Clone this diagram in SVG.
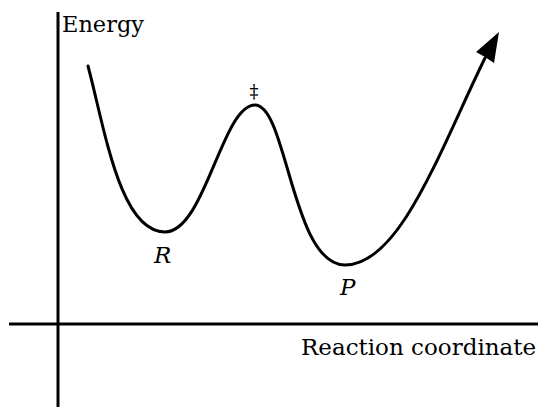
<svg xmlns="http://www.w3.org/2000/svg" width="538" height="407" viewBox="0 0 538 407">
<style>
.ax{stroke:#000;stroke-width:3;fill:none}
.cv{stroke:#000;stroke-width:3;fill:none;stroke-linecap:round}
</style>
<rect width="538" height="407" fill="#fff"/>
<g id="axes">
<line class="ax" x1="58" y1="12" x2="58" y2="407"/>
<line class="ax" x1="9" y1="324" x2="538" y2="324"/>
</g>
<g id="connectors">
<path class="cv" d="M88,66 C105,130 120,232 165,232 C205,232 222,105 255,105 C287,105 292,265 345,265 C400,265 440,150 485,58"/>
<polygon points="499,32 494,63 485,57 476,52" fill="#000"/>
</g>
<g id="labels" font-family="'DejaVu Serif', serif" fill="#000">
<text id="energy" x="62" y="32" font-size="23" textLength="82" lengthAdjust="spacingAndGlyphs">Energy</text>
<text id="rc" x="301" y="355" font-size="23">Reaction coordinate</text>
<text id="R" x="154" y="263" font-size="23" font-style="italic">R</text>
<text id="P" x="340" y="295" font-size="23" font-style="italic">P</text>
<text id="ts" x="254" y="98" font-size="18" text-anchor="middle">&#8225;</text>
</g>
</svg>
